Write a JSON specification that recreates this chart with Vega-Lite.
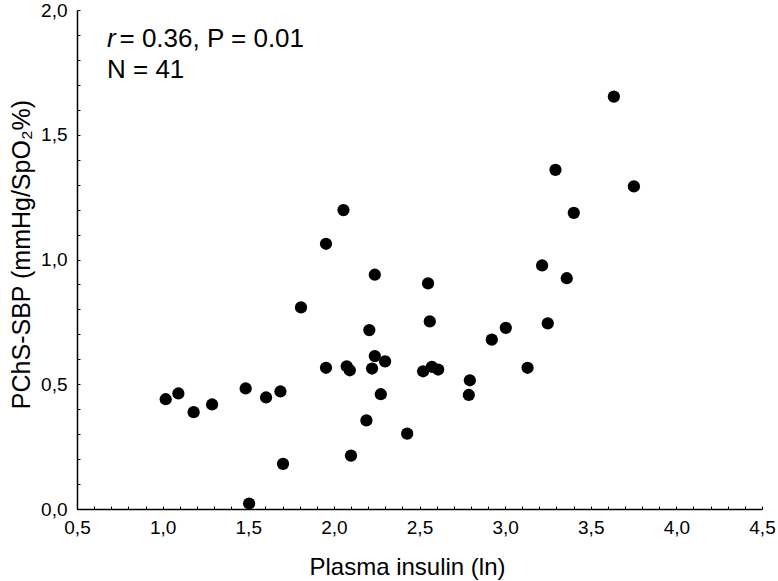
{
  "$schema": "https://vega.github.io/schema/vega-lite/v6.json",
  "width": 685,
  "height": 499,
  "autosize": {"type": "none"},
  "padding": {"left": 77, "top": 10, "right": 16, "bottom": 72},
  "background": "white",
  "config": {
    "view": {"stroke": null},
    "font": "Liberation Sans",
    "axis": {
      "domainColor": "black",
      "domainWidth": 1.5,
      "tickColor": "black",
      "tickWidth": 1,
      "grid": false,
      "labelColor": "black",
      "titleColor": "black",
      "labelFont": "Liberation Sans",
      "titleFont": "Liberation Sans",
      "labelFontSize": 19,
      "titleFontSize": 23,
      "titleFontWeight": "normal",
      "labelOverlap": false
    }
  },
  "resolve": {"axis": {"x": "independent", "y": "independent"}},
  "layer": [
    {
      "data": {
        "values": [
          {"insulin": 1.018, "pchs": 0.440},
          {"insulin": 1.092, "pchs": 0.463},
          {"insulin": 1.181, "pchs": 0.388},
          {"insulin": 1.289, "pchs": 0.419},
          {"insulin": 1.485, "pchs": 0.483},
          {"insulin": 1.505, "pchs": 0.022},
          {"insulin": 1.604, "pchs": 0.447},
          {"insulin": 1.688, "pchs": 0.471},
          {"insulin": 1.703, "pchs": 0.181},
          {"insulin": 1.808, "pchs": 0.808},
          {"insulin": 1.954, "pchs": 0.566},
          {"insulin": 1.954, "pchs": 1.063},
          {"insulin": 2.056, "pchs": 1.198},
          {"insulin": 2.075, "pchs": 0.572},
          {"insulin": 2.093, "pchs": 0.556},
          {"insulin": 2.100, "pchs": 0.214},
          {"insulin": 2.190, "pchs": 0.355},
          {"insulin": 2.207, "pchs": 0.717},
          {"insulin": 2.223, "pchs": 0.563},
          {"insulin": 2.239, "pchs": 0.613},
          {"insulin": 2.239, "pchs": 0.939},
          {"insulin": 2.274, "pchs": 0.460},
          {"insulin": 2.299, "pchs": 0.592},
          {"insulin": 2.428, "pchs": 0.302},
          {"insulin": 2.521, "pchs": 0.552},
          {"insulin": 2.550, "pchs": 0.904},
          {"insulin": 2.560, "pchs": 0.752},
          {"insulin": 2.572, "pchs": 0.570},
          {"insulin": 2.609, "pchs": 0.559},
          {"insulin": 2.788, "pchs": 0.457},
          {"insulin": 2.794, "pchs": 0.516},
          {"insulin": 2.922, "pchs": 0.679},
          {"insulin": 3.004, "pchs": 0.726},
          {"insulin": 3.131, "pchs": 0.566},
          {"insulin": 3.216, "pchs": 0.976},
          {"insulin": 3.249, "pchs": 0.744},
          {"insulin": 3.294, "pchs": 1.359},
          {"insulin": 3.360, "pchs": 0.925},
          {"insulin": 3.401, "pchs": 1.187},
          {"insulin": 3.635, "pchs": 1.653},
          {"insulin": 3.752, "pchs": 1.293}
        ]
      },
      "mark": {"type": "circle", "size": 150, "color": "black", "opacity": 1},
      "encoding": {
        "x": {
          "field": "insulin",
          "type": "quantitative",
          "scale": {"domain": [0.5, 4.5], "nice": false, "zero": false},
          "axis": {
            "orient": "bottom",
            "title": "Plasma insulin (ln)",
            "titleFontSize": 24,
            "values": [0.5, 1.0, 1.5, 2.0, 2.5, 3.0, 3.5, 4.0, 4.5],
            "labelExpr": "replace(format(datum.value, '.1f'), '.', ',')",
            "ticks": false,
            "labelPadding": 9,
            "titlePadding": 18,
            "titleX": 330,
            "labelFlush": false
          }
        },
        "y": {
          "field": "pchs",
          "type": "quantitative",
          "scale": {"domain": [0, 2], "nice": false, "zero": false},
          "axis": {
            "orient": "left",
            "title": "PChS-SBP (mmHg/SpO₂%)",
            "titleFontSize": 25,
            "titleY": 244,
            "values": [0, 0.5, 1.0, 1.5, 2.0],
            "labelExpr": "replace(format(datum.value, '.1f'), '.', ',')",
            "ticks": false,
            "labelPadding": 10,
            "titlePadding": 6,
            "labelFlush": false
          }
        }
      }
    },
    {
      "data": {"values": [{}]},
      "mark": {"type": "text", "text": "r", "fontStyle": "italic", "fontSize": 26, "align": "left", "baseline": "alphabetic", "color": "black", "font": "Liberation Sans"},
      "encoding": {
        "x": {
          "datum": 0.675,
          "type": "quantitative",
          "axis": {
            "orient": "bottom",
            "title": null,
            "values": [0.5,0.6,0.7,0.8,0.9,1.0,1.1,1.2,1.3,1.4,1.5,1.6,1.7,1.8,1.9,2.0,2.1,2.2,2.3,2.4,2.5,2.6,2.7,2.8,2.9,3.0,3.1,3.2,3.3,3.4,3.5,3.6,3.7,3.8,3.9,4.0,4.1,4.2,4.3,4.4,4.5],
            "labels": false,
            "domain": false,
            "tickSize": -3
          }
        },
        "y": {
          "datum": 1.852,
          "type": "quantitative",
          "axis": {
            "orient": "left",
            "title": null,
            "values": [0,0.1,0.2,0.3,0.4,0.5,0.6,0.7,0.8,0.9,1.0,1.1,1.2,1.3,1.4,1.5,1.6,1.7,1.8,1.9,2.0],
            "labels": false,
            "domain": false,
            "tickSize": -3
          }
        }
      }
    },
    {
      "data": {"values": [{}]},
      "mark": {"type": "text", "text": "= 0.36, P = 0.01", "fontSize": 26, "align": "left", "baseline": "alphabetic", "color": "black", "font": "Liberation Sans"},
      "encoding": {
        "x": {"datum": 0.748, "type": "quantitative", "axis": null},
        "y": {"datum": 1.852, "type": "quantitative", "axis": null}
      }
    },
    {
      "data": {"values": [{}]},
      "mark": {"type": "text", "text": "N = 41", "fontSize": 26, "align": "left", "baseline": "alphabetic", "color": "black", "font": "Liberation Sans"},
      "encoding": {
        "x": {"datum": 0.675, "type": "quantitative", "axis": null},
        "y": {"datum": 1.726, "type": "quantitative", "axis": null}
      }
    }
  ]
}
